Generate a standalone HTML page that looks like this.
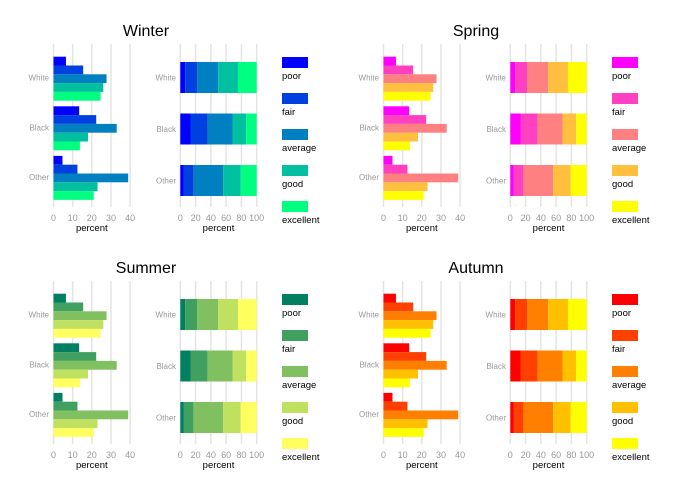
<!DOCTYPE html>
<html><head><meta charset="utf-8"><style>
body{margin:0;background:#fff;font-family:"Liberation Sans",sans-serif}
svg text{font-family:"Liberation Sans",sans-serif}
</style></head><body>
<svg id="c" width="684" height="498" xmlns="http://www.w3.org/2000/svg"></svg>
<script>
const categories = ["White","Black","Other"];
const levels = ["poor","fair","average","good","excellent"];
const poor = [6.5,13.4,4.7];
const fair = [15.5,22.3,12.5];
const average = [27.7,33,39];
const good = [26,18,23];
const excellent = [24.6,13.8,21];
const seasons = ["Winter","Spring","Summer","Autumn"];
const palWinter = ["#0000ff","#0040e0","#0080c0","#00c0a0","#00ff80"];
const palSpring = ["#ff00ff","#ff40c0","#ff8080","#ffc040","#ffff00"];
const palSummer = ["#008060","#40a060","#80c060","#c0e060","#ffff60"];
const palAutumn = ["#ff0000","#ff4000","#ff8000","#ffc000","#ffff00"];
const ticksGrouped = [0,10,20,30,40];
const ticksStacked = [0,20,40,60,80,100];

const series=[poor,fair,average,good,excellent];
const pals=[palWinter,palSpring,palSummer,palAutumn];
const svg=document.getElementById('c');
const NS='http://www.w3.org/2000/svg';
function mk(tag,attrs,parent){const e=document.createElementNS(NS,tag);for(const k in attrs)e.setAttribute(k,attrs[k]);(parent||svg).appendChild(e);return e;}

seasons.forEach((s,si)=>{
  const ox=(si%2)*330, oy=Math.floor(si/2)*237;
  const g=mk('g',{transform:`translate(${ox},${oy})`});
  
  
  const t=mk('text',{x:146,y:36,'text-anchor':'middle','font-size':16,fill:'#000'},g);
  t.textContent=s;
  
  
  // grouped chart
  const gx=v=>53.5+v*1.915;
  ticksGrouped.forEach(v=>{
    const l=mk('line',{x1:gx(v),x2:gx(v),y1:44,y2:207,stroke:'#e4e4e4','stroke-width':1.5},g);
    
    
    const tt=mk('text',{x:gx(v),y:221,'text-anchor':'middle','font-size':9,fill:'#999'},g);
    tt.textContent=v;
    
    
  });
  const xl=mk('text',{x:gx(20),y:231,'text-anchor':'middle','font-size':9.5,fill:'#000'},g);
  xl.textContent='percent';
  
  
  const bh=8.8;
  categories.forEach((c,ci)=>{
    const top=56.7+ci*49.6;
    const lb=mk('text',{x:49,y:top+24,'text-anchor':'end','font-size':8,fill:'#999'},g);
    lb.textContent=c;
    
    
    series.forEach((ser,k)=>{
      const r=mk('rect',{x:gx(0),y:top+k*bh,width:gx(ser[ci])-gx(0),height:bh,fill:pals[si][k]},g);
      
      
    });
  });
  // stacked chart
  const sx=v=>180.3+v*0.764;
  ticksStacked.forEach(v=>{
    const l=mk('line',{x1:sx(v),x2:sx(v),y1:44,y2:207,stroke:'#e4e4e4','stroke-width':1.5},g);
    
    
    const tt=mk('text',{x:sx(v),y:221,'text-anchor':'middle','font-size':9,fill:'#999'},g);
    tt.textContent=v;
    
    
  });
  const xl2=mk('text',{x:sx(50),y:231,'text-anchor':'middle','font-size':9.5,fill:'#000'},g);
  xl2.textContent='percent';
  
  
  categories.forEach((c,ci)=>{
    const top=62+ci*51.5;
    const lb=mk('text',{x:176,y:top+18.5,'text-anchor':'end','font-size':8,fill:'#999'},g);
    lb.textContent=c;
    
    
    const tot=series.reduce((a,s)=>a+s[ci],0);
    let acc=0;
    series.forEach((ser,k)=>{
      const p=ser[ci]/tot*100;
      const r=mk('rect',{x:sx(acc),y:top,width:sx(acc+p)-sx(acc),height:31,fill:pals[si][k]},g);
      
      
      acc+=p;
    });
  });
  // legend
  levels.forEach((lv,k)=>{
    const y=57+k*36;
    const r=mk('rect',{x:282,y:y,width:26,height:11,fill:pals[si][k]},g);
    
    
    const tt=mk('text',{x:282,y:y+22,'font-size':9.5,fill:'#000'},g);
    tt.textContent=lv;
    
    
  });
});
</script>
</body></html>
